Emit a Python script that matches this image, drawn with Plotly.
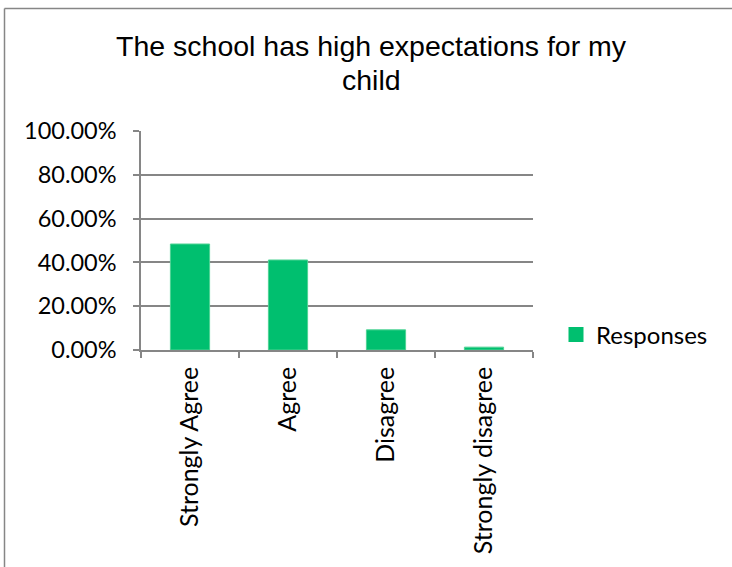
import plotly.graph_objects as go

# Survey responses
categories = ["Strongly Agree", "Agree", "Disagree", "Strongly disagree"]
responses = [0.484, 0.411, 0.092, 0.013]
y_ticks = [0, 0.2, 0.4, 0.6, 0.8, 1.0]
title_lines = ["The school has high expectations for my", "child"]
series_name = "Responses"
bar_color = "#00BF6F"

W, H = 732, 567
L, R, T, B = 141, 199, 131, 217
pw, ph = W - L - R, H - T - B

def px_x(x):
    return (x - L) / pw

def px_y(y):
    return (H - B - y) / ph

grey = "#868686"

fig = go.Figure()
fig.add_trace(
    go.Bar(
        x=categories,
        y=responses,
        name=series_name,
        marker=dict(color=bar_color, line=dict(color="#4fd394", width=1)),
        showlegend=False,
        legendgroup="r",
    )
)
# Legend key: a larger square swatch for the series
fig.add_trace(
    go.Scatter(
        x=[None], y=[None], mode="markers", name=series_name,
        marker=dict(symbol="square", size=15, color=bar_color),
        legendgroup="r", showlegend=True,
    )
)

# Title drawn as two centred lines with tight line spacing
title_font = dict(family="Liberation Sans", size=28.5, color="#000000")
title_ann = [
    dict(text=line, x=px_x(371), y=px_y(yc), xref="paper", yref="paper",
         xanchor="center", yanchor="middle", showarrow=False, font=title_font)
    for line, yc in zip(title_lines, [46.0, 79.5])
]

fig.update_layout(
    width=W,
    height=H,
    margin=dict(l=L, r=R, t=T, b=B),
    paper_bgcolor="white",
    plot_bgcolor="white",
    bargap=0.6,
    annotations=title_ann,
    legend=dict(
        x=px_x(556),
        y=px_y(335),
        xanchor="left",
        yanchor="middle",
        itemsizing="trace",
        font=dict(family="Lato", size=24, color="#000000"),
        bgcolor="rgba(0,0,0,0)",
    ),
    xaxis=dict(
        type="category",
        tickangle=-90,
        tickfont=dict(family="Lato", size=25, color="#000000"),
        ticklabelstandoff=5,
        showline=True,
        linecolor=grey,
        linewidth=1.5,
        ticks="outside",
        tickson="boundaries",
        ticklen=6,
        tickcolor=grey,
        tickwidth=1.5,
        showgrid=False,
    ),
    yaxis=dict(
        range=[0, 1],
        tickvals=y_ticks,
        tickformat=".2%",
        tickfont=dict(family="Lato", size=23.5, color="#000000"),
        ticklabelstandoff=12,
        showline=True,
        linecolor=grey,
        linewidth=1.5,
        ticks="outside",
        ticklen=6,
        tickcolor=grey,
        tickwidth=1.5,
        showgrid=True,
        gridcolor=grey,
        gridwidth=1.5,
        zeroline=False,
    ),
    shapes=[
        # Chart-area border (left and top edges)
        dict(type="line", xref="paper", yref="paper",
             x0=px_x(4.5), x1=px_x(4.5), y0=px_y(8.5), y1=px_y(H + 5),
             line=dict(color=grey, width=1.5)),
        dict(type="line", xref="paper", yref="paper",
             x0=px_x(4.5), x1=px_x(W + 5), y0=px_y(8.5), y1=px_y(8.5),
             line=dict(color=grey, width=1.5)),
    ],
)

fig.write_html("out.html")
